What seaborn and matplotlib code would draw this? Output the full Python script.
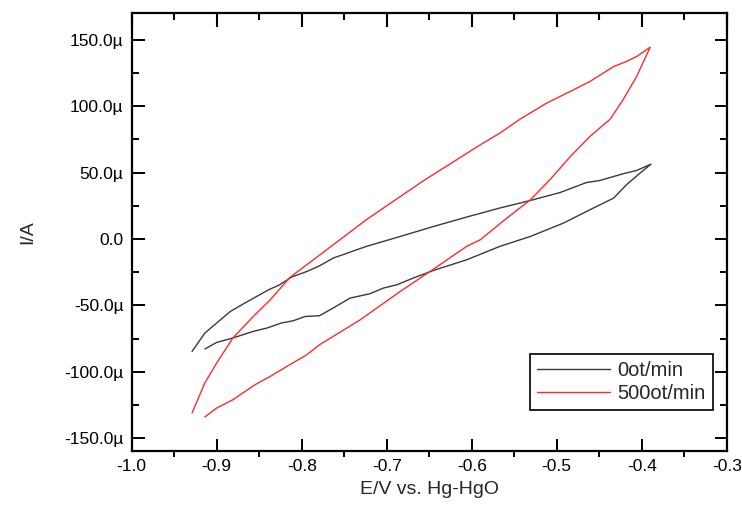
import pandas as pd
import matplotlib
matplotlib.use("Agg")
import matplotlib.pyplot as plt
import matplotlib.lines as mlines
import seaborn as sns
from matplotlib.ticker import MultipleLocator, FuncFormatter

# Cyclic voltammograms (E in V vs. Hg-HgO, I in microamps)
# 0 rpm loop: forward branch then back branch
e_0 = [-0.929, -0.914, -0.900, -0.884, -0.867, -0.853, -0.839, -0.826, -0.812, -0.794,
       -0.779, -0.763, -0.724, -0.684, -0.645, -0.606, -0.567, -0.551, -0.528, -0.496,
       -0.465, -0.449, -0.422, -0.406, -0.389,
       -0.402, -0.418, -0.433, -0.461, -0.492, -0.531, -0.567, -0.606, -0.645, -0.669,
       -0.688, -0.704, -0.720, -0.743, -0.763, -0.779, -0.796, -0.810, -0.824, -0.841,
       -0.857, -0.881, -0.900, -0.914]
i_0 = [-84.7, -70.9, -63.3, -54.6, -48.3, -43.3, -38.3, -34.5, -28.7, -24.5,
       -20.2, -14.4, -5.6, 1.9, 9.4, 16.5, 23.3, 25.8, 29.5, 35.0,
       42.5, 44.1, 49.1, 51.6, 56.4,
       49.6, 40.8, 30.8, 22.0, 12.0, 1.9, -5.6, -15.7, -23.7, -29.5,
       -34.5, -37.0, -41.3, -44.5, -52.0, -57.8, -58.4, -61.6, -63.3, -67.1,
       -69.6, -74.6, -77.9, -82.9]

# 500 rpm loop
e_500 = [-0.929, -0.914, -0.900, -0.881, -0.857, -0.837, -0.814, -0.794, -0.763, -0.724,
         -0.684, -0.655, -0.590, -0.567, -0.543, -0.512, -0.488, -0.461, -0.433, -0.418,
         -0.406, -0.390,
         -0.406, -0.422, -0.437, -0.461, -0.484, -0.508, -0.531, -0.561, -0.590, -0.606,
         -0.645, -0.684, -0.731, -0.779, -0.794, -0.814, -0.837, -0.855, -0.881, -0.900,
         -0.914]
i_500 = [-131.1, -108.5, -93.4, -74.6, -58.4, -45.8, -29.0, -19.4, -4.4, 14.5,
         32.0, 44.6, 70.9, 79.7, 90.3, 102.3, 109.9, 118.6, 129.9, 133.7,
         137.4, 144.5,
         122.4, 104.8, 90.3, 77.2, 62.1, 44.6, 29.5, 14.5, -0.6, -5.6,
         -22.7, -39.5, -60.8, -79.7, -87.2, -94.7, -103.5, -109.8, -121.1, -127.3,
         -134.1]

labels = ["0ot/min", "500ot/min"]
colors = ["#3a3a3a", "#ff2a2a"]

df = pd.concat([
    pd.DataFrame({"E": e_0, "I": i_0, "speed": labels[0]}),
    pd.DataFrame({"E": e_500, "I": i_500, "speed": labels[1]}),
], ignore_index=True)

sns.set_style("ticks", {"xtick.top": True, "ytick.right": True})
plt.rcParams["font.family"] = ["Liberation Sans", "DejaVu Sans"]

fig = plt.figure(figsize=(7.42, 5.13), dpi=100)
ax = fig.add_axes([0.1775, 0.1214, 0.8019, 0.8527])

sns.lineplot(data=df, x="E", y="I", hue="speed", palette=dict(zip(labels, colors)),
             sort=False, estimator=None, linewidth=1.0, ax=ax)

ax.set_xlim(-1.0, -0.3)
ax.set_ylim(-159.5, 170)
ax.xaxis.set_major_locator(MultipleLocator(0.1))
ax.xaxis.set_minor_locator(MultipleLocator(0.05))
ax.yaxis.set_major_locator(MultipleLocator(50))
ax.yaxis.set_minor_locator(MultipleLocator(25))
ax.xaxis.set_major_formatter(FuncFormatter(lambda v, p: f"{v:.1f}"))
ax.yaxis.set_major_formatter(FuncFormatter(lambda v, p: "0.0" if abs(v) < 1e-9 else f"{v:.1f}\u00b5"))

for s in ax.spines.values():
    s.set_visible(True)
    s.set_linewidth(1.6)
    s.set_color("black")

ax.xaxis.set_ticks_position("both")
ax.yaxis.set_ticks_position("both")
ax.tick_params(which="major", direction="in", length=9, width=1.4,
               labelsize=12.5, colors="black", pad=6)
ax.tick_params(which="minor", direction="in", length=5, width=1.4, colors="black")
# bottom minor ticks point outward, top minor ticks inward
ax.tick_params(axis="x", which="minor", direction="out", length=4)

ax.set_xlabel("E/V vs. Hg-HgO", fontsize=14, labelpad=5)
ax.set_ylabel("I/A", fontsize=14, labelpad=20)

leg = ax.legend(loc="lower right", bbox_to_anchor=(0.977, 0.093), fontsize=14.5,
                frameon=True, fancybox=False, edgecolor="black", framealpha=1,
                borderaxespad=0, handlelength=3.6, handletextpad=0.4,
                borderpad=0.35, labelspacing=0.2, title=None)
leg.get_frame().set_linewidth(1.2)

# the top-side ticks only show up when switched on explicitly after a draw
fig.canvas.draw()
for t in ax.xaxis.get_minor_ticks():
    t.tick2line.set_marker(mlines.TICKDOWN)
    t.tick2line.set_markersize(5)
    t.tick2line.set_markeredgewidth(1.5)
    t.tick2line.set_markeredgecolor("black")
    t.tick2line.set_visible(True)
for t in ax.xaxis.get_major_ticks():
    t.tick2line.set_marker(mlines.TICKDOWN)
    t.tick2line.set_markersize(10)
    t.tick2line.set_markeredgewidth(1.5)
    t.tick2line.set_markeredgecolor("black")
    t.tick2line.set_visible(True)

fig.savefig("out.png", dpi=100)
